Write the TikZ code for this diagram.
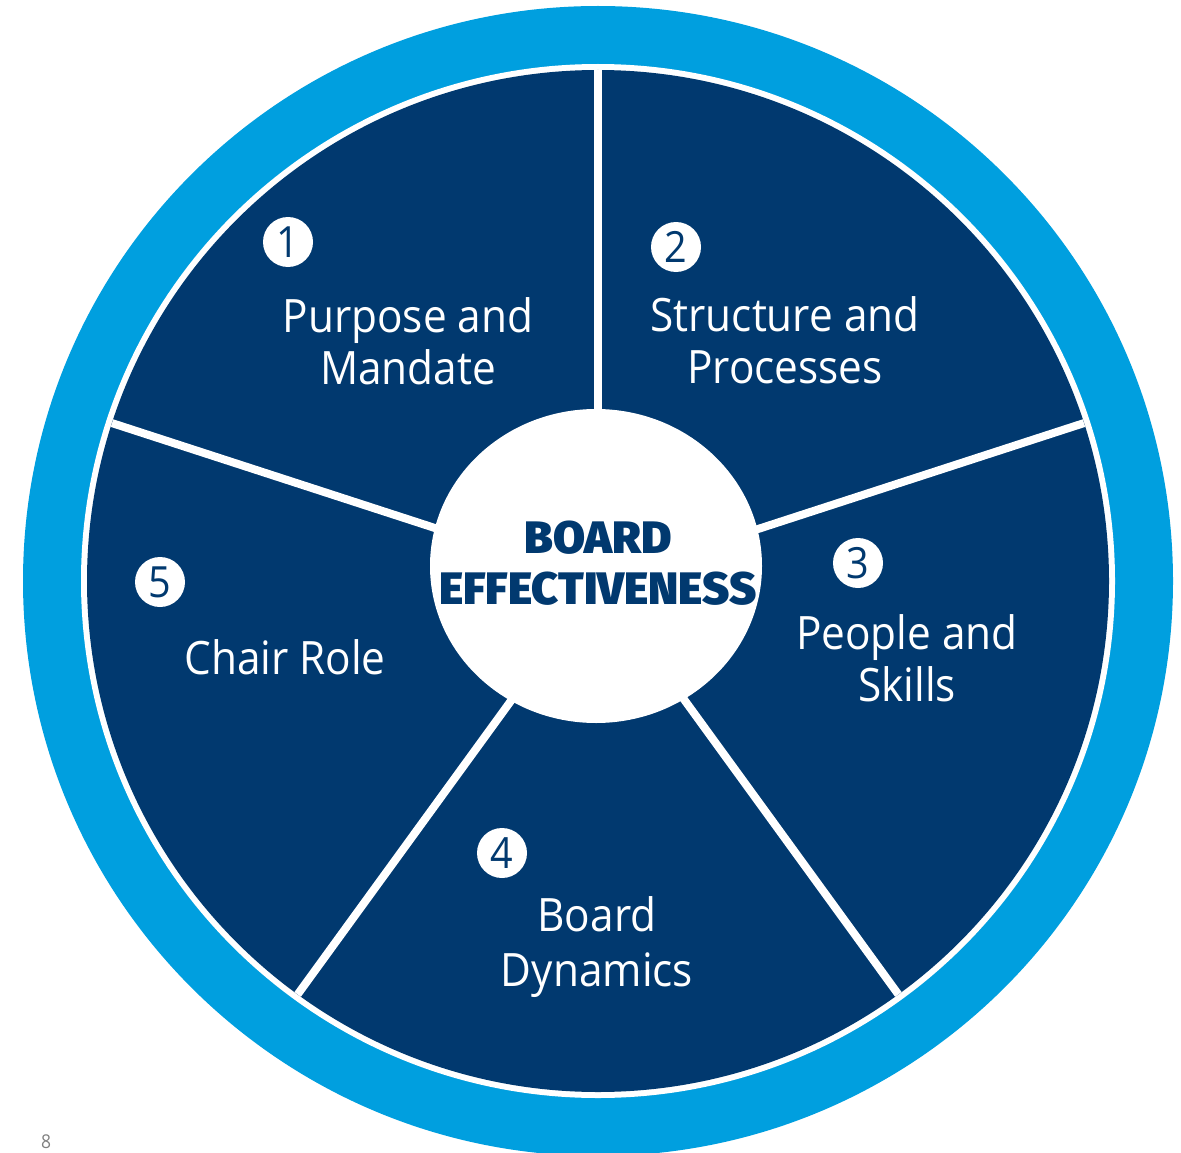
\documentclass[tikz,border=0pt]{standalone}
\usepackage{fontspec}
\setmainfont{Open Sans}[FakeStretch=0.92]
\newfontfamily\blkfont{Fira Sans Black}[FakeStretch=1.02]
\usetikzlibrary{shapes.geometric,calc}
\definecolor{navy}{RGB}{1,57,111}
\definecolor{sky}{RGB}{0,159,223}
\definecolor{pagegray}{RGB}{128,128,128}
\tikzset{
  divider/.style={draw=white, line width=8pt},
  lbl/.style={text=white, align=center, inner sep=0pt, font=\fontsize{46}{52}\selectfont},
  numc/.style={circle, fill=white, minimum size=50pt, inner sep=0pt, text=navy, font=\fontsize{43}{43}\selectfont},
  hubstyle/.style={ellipse, fill=white, minimum width=332pt, minimum height=314pt, inner sep=0pt}
}
\begin{document}
\begin{tikzpicture}[x=1pt,y=-1pt]
\useasboundingbox (0,0) rectangle (1181,1153);
\coordinate (c) at (598,581);
\fill[sky] (c) circle[radius=575pt];
\fill[white] (c) circle[radius=517pt];
\fill[navy] (c) circle[radius=511pt];
\foreach \a/\n in {90/a,162/b,234/d,306/e,18/f}{
  \coordinate (end\n) at ($(c)+(\a:511pt)$);
}
\draw[divider] (c) -- (enda);
\draw[divider] (c) -- (endb);
\draw[divider] (c) -- (endd);
\draw[divider] (c) -- (ende);
\draw[divider] (c) -- (endf);
\node[hubstyle] (hub) at (596,566) {};
\node[text=navy, align=center, inner sep=0pt, font=\blkfont\fontsize{45.5}{51}\selectfont] (hubtext) at (598,563) {BOARD\\EFFECTIVENESS};
% numbers
\node[numc] (n1) at (288,242) {1};
\node[numc] (n2) at (676,247) {2};
\node[numc] (n3) at (858,563) {3};
\node[numc] (n4) at (502,853) {4};
\node[numc] (n5) at (160,582) {5};
% labels
\node[lbl] (t1) at (408,341) {Purpose and\\Mandate};
\node[lbl] (t2) at (785,340) {Structure and\\Processes};
\node[lbl] (t3) at (907,658) {People and\\Skills};
\node[lbl, font=\fontsize{46}{55}\selectfont] (t4) at (597,947) {Board\\Dynamics};
\node[lbl] (t5) at (285,657) {Chair Role};
\node[text=pagegray, anchor=north west, inner sep=0pt, font=\fontsize{19}{19}\selectfont] (pg) at (41,1135) {8};
\end{tikzpicture}
\end{document}
